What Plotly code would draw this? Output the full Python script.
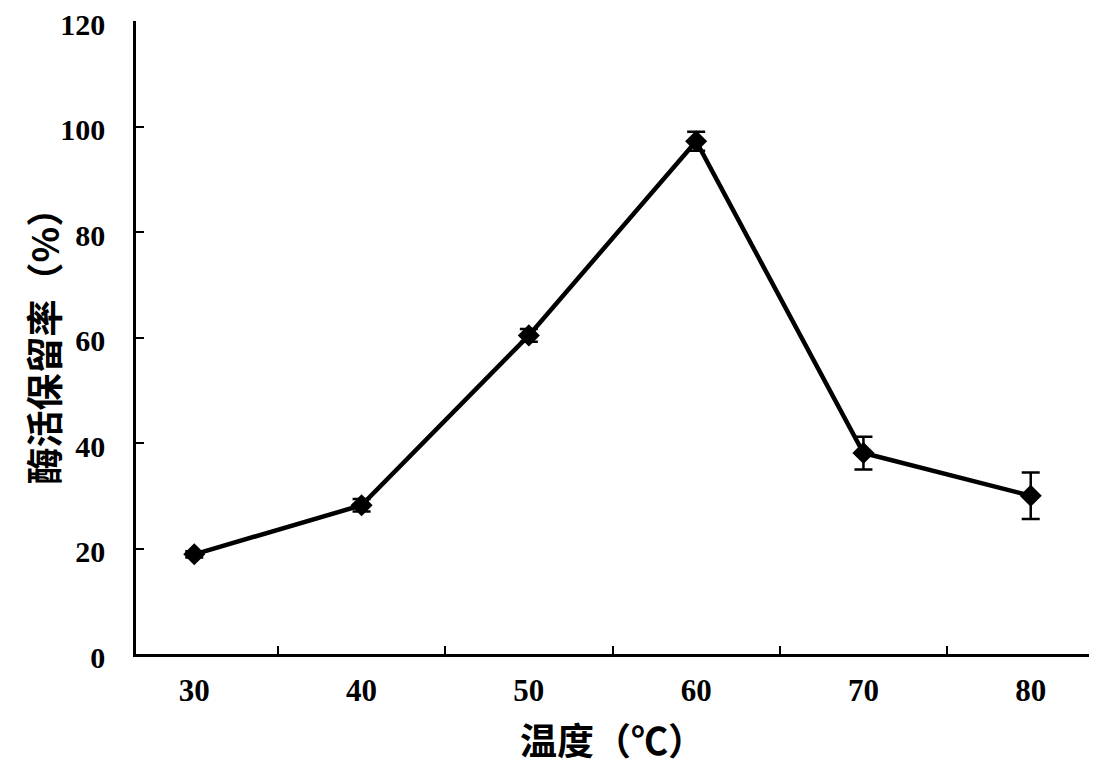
import plotly.graph_objects as go

temperatures = ["30", "40", "50", "60", "70", "80"]
retention = [18.9, 28.2, 60.4, 97.2, 38.1, 30.0]
errors = [0.6, 1.2, 1.2, 1.8, 3.1, 4.4]
y_ticks = [0, 20, 40, 60, 80, 100, 120]

fig = go.Figure()
fig.add_trace(go.Scatter(
    x=temperatures, y=retention,
    mode="lines+markers",
    line=dict(color="black", width=4.5),
    marker=dict(symbol="diamond", size=17, color="black"),
    error_y=dict(type="data", array=errors, visible=True,
                 color="black", thickness=2.5, width=9),
    showlegend=False,
))

tick_font = dict(family="Liberation Serif", size=31, color="black", weight="bold")
y_tick_font = dict(family="Liberation Serif", size=30, color="black", weight="bold")
title_font = dict(family="Noto Sans CJK SC", size=37, color="black")
fig.update_layout(
    width=1082, height=758,
    margin=dict(l=128, r=1, t=13, b=112),
    paper_bgcolor="white", plot_bgcolor="white",
    xaxis=dict(
        type="category", tickson="boundaries", ticks="inside", ticklen=8,
        tickwidth=2, tickcolor="black", showline=True, linecolor="black",
        linewidth=2.5, showgrid=False, zeroline=False, automargin=False,
        tickfont=tick_font, ticklabelstandoff=7,
        title=dict(text="<b>温度（℃）</b>", standoff=27, font=title_font),
    ),
    yaxis=dict(
        range=[0, 120], tickvals=y_ticks, ticks="inside", ticklen=8,
        tickwidth=2, tickcolor="black", showline=True, linecolor="black",
        linewidth=2.5, showgrid=False, zeroline=False, automargin=False,
        tickfont=y_tick_font, ticklabelstandoff=22, ticklabeloverflow="allow",
        ticklabelshift=3,
    ),
    annotations=[dict(
        text="<b>酶活保留率（%）</b>", textangle=-90, font=title_font,
        xref="paper", yref="paper", x=0, y=0.5, xanchor="center",
        yanchor="middle", xshift=-94, showarrow=False,
    )],
)
fig.write_html("out.html")
